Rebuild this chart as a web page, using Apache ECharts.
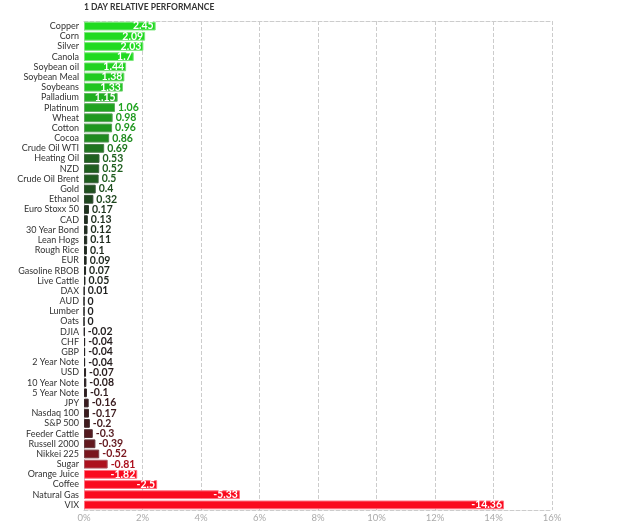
<!DOCTYPE html>
<html><head><meta charset="utf-8">
<script src="https://cdn.jsdelivr.net/npm/echarts@6/dist/echarts.min.js"></script>
<style>html,body{margin:0;padding:0;background:#fff;}#c{width:625px;height:531px;}</style>
</head><body><div id="c"></div>
<script>
const categories = ["Copper","Corn","Silver","Canola","Soybean oil","Soybean Meal","Soybeans","Palladium","Platinum","Wheat","Cotton","Cocoa","Crude Oil WTI","Heating Oil","NZD","Crude Oil Brent","Gold","Ethanol","Euro Stoxx 50","CAD","30 Year Bond","Lean Hogs","Rough Rice","EUR","Gasoline RBOB","Live Cattle","DAX","AUD","Lumber","Oats","DJIA","CHF","GBP","2 Year Note","USD","10 Year Note","5 Year Note","JPY","Nasdaq 100","S&P 500","Feeder Cattle","Russell 2000","Nikkei 225","Sugar","Orange Juice","Coffee","Natural Gas","VIX"];
const values = [2.45,2.09,2.03,1.7,1.44,1.38,1.33,1.15,1.06,0.98,0.96,0.86,0.69,0.53,0.52,0.5,0.4,0.32,0.17,0.13,0.12,0.11,0.1,0.09,0.07,0.05,0.01,0,0,0,-0.02,-0.04,-0.04,-0.04,-0.07,-0.08,-0.1,-0.16,-0.17,-0.2,-0.3,-0.39,-0.52,-0.81,-1.82,-2.5,-5.33,-14.36];
const tickValues = [0,2,4,6,8,10,12,14,16];

function hex(c){return [parseInt(c.slice(1,3),16),parseInt(c.slice(3,5),16),parseInt(c.slice(5,7),16)];}
function mix(a,b,t){const A=hex(a),B=hex(b);return 'rgb('+A.map((x,i)=>Math.round(x+(B[i]-x)*t)).join(',')+')';}
function colorFor(v){
  const zero='#1e1e1e';
  if(v>=0) return mix(zero,'#20da20',Math.min(1,v/1.5));
  return mix(zero,'#fa0a1e',Math.min(1,-v/1.25));
}
function borderFor(v){
  if(v>=0) return mix('#1e1e1e','#7be87b',Math.min(1,v/1.5));
  return mix('#1e1e1e','#ff7080',Math.min(1,-v/1.25));
}

const data = values.map(v=>{
  const inside = Math.abs(v)>=1.1;
  return {
    value: Math.abs(v),
    itemStyle:{color:colorFor(v),borderColor:borderFor(v),borderWidth:1},
    label:{
      show:true,
      position: inside?'insideRight':'right',
      distance: inside?2:3,
      color: inside?'#fff':colorFor(v),
      fontWeight:'bold',
      fontFamily:'Lato',
      fontSize:10.5,
      formatter: String(v)
    }
  };
});

const chart = echarts.init(document.getElementById('c'),null,{renderer:'canvas'});
chart.setOption({
  animation:false,
  title:{text:'1 DAY RELATIVE PERFORMANCE',left:84,top:3,padding:0,textStyle:{fontFamily:'Lato',fontSize:8.5,fontWeight:'bold',color:'#333'}},
  grid:{left:84,right:73,top:21,bottom:21,containLabel:false},
  xAxis:[{
    type:'value',min:tickValues[0],max:tickValues[tickValues.length-1],interval:2,position:'bottom',
    axisLine:{show:true,lineStyle:{color:'#ccc',type:'dashed'}},
    axisTick:{show:false},
    axisLabel:{formatter:'{value}%',color:'#aaa',fontFamily:'Lato',fontSize:9.5,margin:3},
    splitLine:{show:true,lineStyle:{color:'#ccc',type:'dashed'}}
  },{
    type:'value',min:0,max:16,interval:2,position:'top',
    axisLine:{show:true,lineStyle:{color:'#ccc',type:'dashed'}},
    axisTick:{show:false},axisLabel:{show:false},splitLine:{show:false}
  }],
  yAxis:{
    type:'category',data:categories,inverse:true,
    axisLine:{show:false},axisTick:{show:false},
    axisLabel:{color:'#333',fontFamily:'Lato',fontSize:9,margin:5,interval:0}
  },
  series:[{type:'bar',data:data,barCategoryGap:'14%',xAxisIndex:0}]
});
</script></body></html>
